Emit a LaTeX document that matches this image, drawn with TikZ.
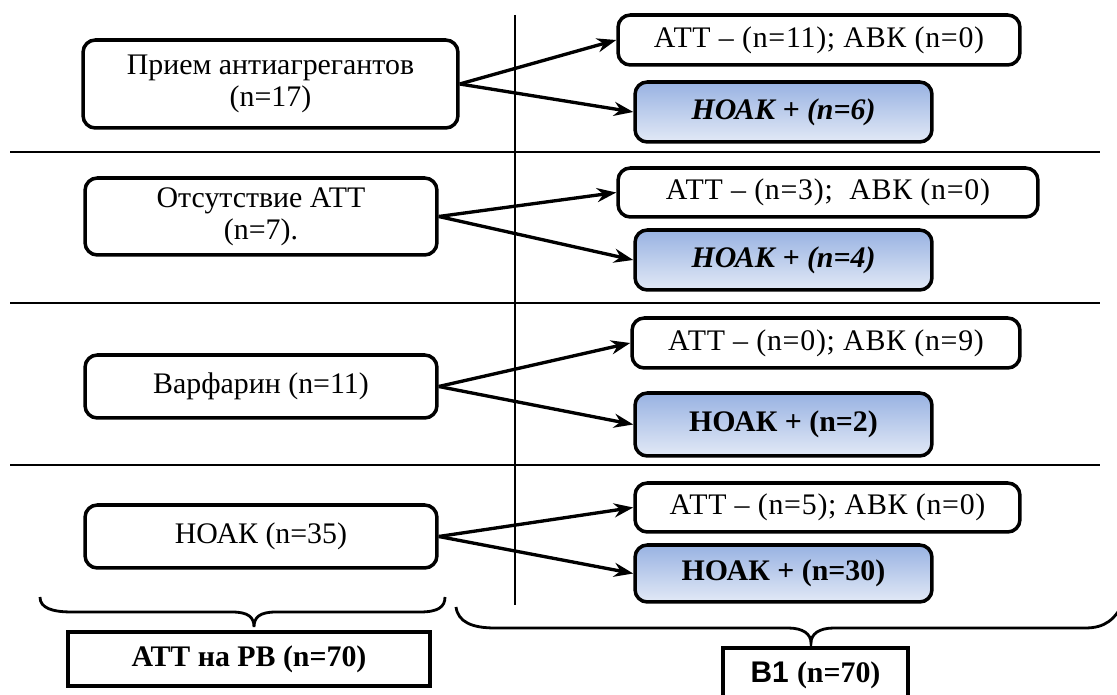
\documentclass[tikz,border=0pt]{standalone}
\usepackage{fontspec}
\setmainfont{Liberation Serif}
\setsansfont{Liberation Sans}
\newfontfamily\timesf{Liberation Serif}
\newfontfamily\timessp{Liberation Serif}[LetterSpace=2.5]
\usetikzlibrary{arrows.meta}
\tikzset{
  x=0.02cm, y=-0.02cm,
  base/.style={draw=black, line width=2pt, rounded corners=7pt, inner sep=0pt, align=center,
    font=\timesf\fontsize{17}{18}\selectfont},
  lbox/.style={base, fill=white},
  wbox/.style={base, fill=white, font=\timessp\fontsize{17}{18}\selectfont},
  bbox/.style={base, top color=blue1, bottom color=blue2},
  sbox/.style={draw=black, line width=2.2pt, inner sep=0pt, fill=white,
    font=\timesf\fontsize{17}{18}\selectfont\bfseries},
  sep/.style={line width=1.2pt},
  arr/.style={line width=1.9pt, -{Stealth[length=11pt,width=8pt]}},
  brace/.style={line width=1.6pt}
}
\definecolor{blue1}{RGB}{152,178,226}
\definecolor{blue2}{RGB}{226,233,246}
\begin{document}
\begin{tikzpicture}
\useasboundingbox (0,0) rectangle (1117,695);
\clip (0,0) rectangle (1117,695);
% separators
\draw[sep] (10,152) -- (1100,152);
\draw[sep] (10,303) -- (1100,303);
\draw[sep] (10,465) -- (1100,465);
\draw[line width=1.5pt] (515,15) -- (515,605);
% left boxes
\node[lbox, minimum width=7.5cm, minimum height=1.76cm] (L1) at (270.5,84) {Прием антиагрегантов\\(n=17)};
\node[lbox, minimum width=7.04cm, minimum height=1.54cm] (L2) at (261,216.5) {Отсутствие АТТ\\(n=7).};
\node[lbox, minimum width=7.04cm, minimum height=1.26cm] (L3) at (261,386.5) {Варфарин (n=11)};
\node[lbox, minimum width=7.04cm, minimum height=1.26cm] (L4) at (261,536.5) {НОАК (n=35)};
% right white boxes
\node[wbox, minimum width=8.04cm, minimum height=1.0cm] (W1) at (819,40) {АТТ – (n=11); АВК (n=0)};
\node[wbox, minimum width=8.4cm, minimum height=0.98cm] (W2) at (828,192.5) {АТТ – (n=3);\ \ АВК (n=0)};
\node[wbox, minimum width=7.76cm, minimum height=1.0cm] (W3) at (826,343) {АТТ – (n=0); АВК (n=9)};
\node[wbox, minimum width=7.7cm, minimum height=0.98cm] (W4) at (827.5,507.5) {АТТ – (n=5); АВК (n=0)};
% blue boxes
\node[bbox, minimum width=5.94cm, minimum height=1.2cm] (B1) at (783.5,112) {\bfseries\itshape НОАК + (n=6)};
\node[bbox, minimum width=5.94cm, minimum height=1.2cm] (B2) at (783.5,260) {\bfseries\itshape НОАК + (n=4)};
\node[bbox, minimum width=5.94cm, minimum height=1.26cm] (B3) at (783.5,424.5) {\bfseries НОАК + (n=2)};
\node[bbox, minimum width=5.94cm, minimum height=1.14cm] (B4) at (783.5,573.5) {\bfseries НОАК + (n=30)};
% arrows
\draw[arr] (L1.east) -- (W1.west);
\draw[arr] (L1.east) -- (B1.west);
\draw[arr] (L2.east) -- (W2.west);
\draw[arr] (L2.east) -- (B2.west);
\draw[arr] (L3.east) -- (W3.west);
\draw[arr] (L3.east) -- (B3.west);
\draw[arr] (L4.east) -- (W4.west);
\draw[arr] (L4.east) -- (B4.west);
% braces
\draw[brace] (40,597) .. controls (40,608) and (52,612) .. (72,612) -- (232,612)
  .. controls (248,612) and (254,617) .. (254,627)
  .. controls (254,617) and (260,612) .. (276,612) -- (420,612)
  .. controls (438,612) and (445,607) .. (445,597);
\draw[brace] (456,607) .. controls (458,622) and (472,628) .. (495,628) -- (788,628)
  .. controls (803,628) and (811,634) .. (811,643)
  .. controls (811,634) and (819,628) .. (834,628) -- (1085,628)
  .. controls (1105,628) and (1115,620) .. (1125,600);
% bottom boxes
\node[sbox, minimum width=7.24cm, minimum height=1.08cm] (S1) at (249,659) {АТТ на РВ (n=70)};
\node[sbox, minimum width=3.7cm, minimum height=1.1cm, anchor=north] (S2) at (815.5,646) {\sffamily\bfseries В1 \timesf(n=70)};
\end{tikzpicture}
\end{document}
